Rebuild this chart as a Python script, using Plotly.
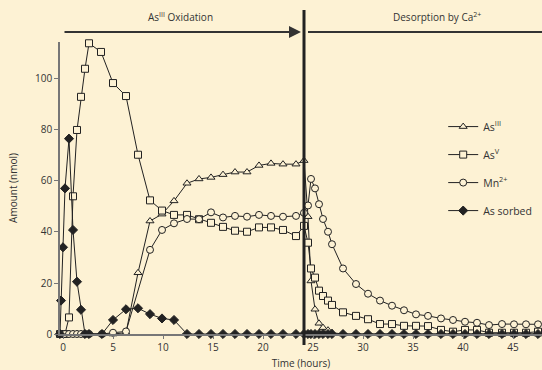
import plotly.graph_objects as go

# ---- data ----
t_as3 = [-0.3, 0.2, 0.6, 1.0, 1.4, 1.8, 2.2, 2.6, 3.9, 5.0, 6.3, 7.5, 8.7, 9.9, 11.1, 12.4, 13.6, 14.8,
         16.0, 17.2, 18.4, 19.6, 20.8, 22.0, 23.3, 24.1, 24.5, 24.8, 25.2, 25.6, 26.0, 26.5, 26.9,
         28.0, 29.3, 30.5, 31.7, 32.9, 34.1, 35.3, 36.5, 37.8, 39.0, 40.2, 41.4, 42.6, 43.9, 45.1, 46.3, 47.5]
as3 = [0, 0, 0, 0, 0, 0, 0, 0, 0, 0, 0.5, 24, 44.3, 47, 52.2, 59.1, 60.8, 61.4,
       62.5, 63.5, 63.5, 66.1, 66.9, 66.6, 66.6, 68, 46, 20.8, 9.7, 4.2, 2.5, 1.5, 0.5,
       0, 0, 0, 0, 0, 0, 0, 0, 0, 0, 0, 0, 0, 0, 0, 0, 0]

t_as5 = [-0.3, 0.2, 0.6, 1.0, 1.4, 1.8, 2.2, 2.6, 3.8, 5.0, 6.3, 7.5, 8.7, 9.9, 11.1, 12.4, 13.6, 14.8,
         16.0, 17.2, 18.4, 19.6, 20.8, 22.0, 23.3, 24.1, 24.5, 24.8, 25.2, 25.6, 26.0, 26.5, 26.9,
         28.0, 29.3, 30.5, 31.7, 32.9, 34.1, 35.3, 36.5, 37.8, 39.0, 40.2, 41.4, 42.6, 43.9, 45.1, 46.3, 47.5]
as5 = [0, 0, 6.5, 54, 80, 93, 104, 114, 110.6, 98.4, 93.3, 70.3, 52.4, 48.4, 46.7, 46.7, 45, 43.6,
       42, 40.5, 40.1, 41.8, 41.8, 40.8, 38.4, 42.4, 35.8, 25.7, 22.1, 17, 14.9, 13.1, 11.4,
       8.5, 7.1, 5.8, 3.9, 3.9, 3.2, 3.2, 3.1, 1.6, 0.9, 1.6, 1.6, 0.5, 0.5, 0.5, 0.5, 0.9]

t_mn = [-0.3, 0.2, 0.6, 1.0, 1.4, 1.8, 2.2, 2.6, 3.9, 5.0, 6.3, 8.7, 9.9, 11.1, 12.4, 13.6, 14.8,
        16.0, 17.2, 18.4, 19.6, 20.8, 22.0, 23.3, 24.1, 24.5, 24.8, 25.2, 25.6, 26.0, 26.5, 26.9,
        28.0, 29.3, 30.5, 31.7, 32.9, 34.1, 35.3, 36.5, 37.8, 39.0, 40.2, 41.4, 42.6, 43.9, 45.1, 46.3, 47.5]
mn = [0, 0, 0, 0, 0, 0, 0, 0, 0, 0.5, 1.0, 33, 40.8, 43.4, 45.1, 45, 47.7,
      45.7, 46.3, 46, 46.7, 46.3, 46, 46.3, 47.5, 50.4, 60.8, 57.1, 50.9, 45.1, 40.1, 35.2,
      25.7, 19.6, 15.8, 13.1, 11.1, 9.3, 7.7, 7.1, 6.1, 5.5, 4.8, 4.4, 3.5, 3.9, 3.8, 3.8, 3.8]

t_sorb = [-0.3, -0.2, 0.0, 0.2, 0.6, 1.0, 1.4, 1.8, 2.2, 2.6, 3.9, 5.0, 6.3, 7.5, 8.7, 9.9, 11.1, 12.4,
          13.6, 14.8, 16.0, 17.2, 18.4, 19.6, 20.8, 22.0, 23.3, 24.1, 24.5, 24.8, 25.2, 25.6, 26.0, 26.5, 26.9,
          28.0, 29.3, 30.5, 31.7, 32.9, 34.1, 35.3, 36.5, 37.8, 39.0, 40.2, 41.4, 42.6, 43.9, 45.1, 46.3, 47.5]
sorb = [0, 13.1, 34, 57.1, 76.6, 40.8, 20.5, 9.5, 0, 0, 0, 5.5, 9.7, 10.1, 7.8, 6.1, 5.5, 0,
        0, 0, 0, 0, 0, 0, 0, 0, 0, 0, 0, 0, 0, 0, 0, 0, 0,
        0, 0, 0, 0, 0, 0, 0, 0, 0, 0, 0, 0, 0, 0, 0, 0, 0]

x_ticks = [0, 5, 10, 15, 20, 25, 30, 35, 40, 45]
y_ticks = [0, 20, 40, 60, 80, 100]
t_switch = 24.1

BG = "#FDF2D4"
INK = "#222222"
FONT = "Open Sans"

fig = go.Figure()

def add(t, y, name, symbol, filled):
    fig.add_trace(go.Scatter(
        x=t, y=y, name=name, mode="lines+markers", cliponaxis=False,
        line=dict(color=INK, width=1),
        marker=dict(symbol=symbol, size=7,
                    color=INK if filled else BG,
                    line=dict(color=INK, width=1)),
        legendgroup=name,
    ))

add(t_as3, as3, "As<sup>III</sup>", "triangle-up", False)
add(t_as5, as5, "As<sup>V</sup>", "square", False)
add(t_mn, mn, "Mn<sup>2+</sup>", "circle", False)
add(t_sorb, sorb, "As sorbed", "diamond", True)

fig.update_layout(
    width=542, height=370,
    margin=dict(l=60, r=0, t=42, b=36, autoexpand=False),
    paper_bgcolor=BG, plot_bgcolor=BG,
    font=dict(family=FONT, size=10, color="#333333"),
    showlegend=True,
    legend=dict(x=0.795, y=0.76, xanchor="left", yanchor="top",
                bgcolor="rgba(0,0,0,0)", font=dict(size=10.5),
                tracegroupgap=9, itemwidth=30),
    xaxis=dict(range=[-0.3, 47.9], tickvals=x_ticks, showgrid=False, zeroline=False,
               showline=True, linecolor="#777777", linewidth=1.5,
               ticks="outside", ticklen=3, tickcolor="#777777",
               title=dict(text="Time (hours)", font=dict(size=10), standoff=12)),
    yaxis=dict(range=[0, 114.5], tickvals=y_ticks, showgrid=False, zeroline=False,
               showline=True, linecolor="#777777", linewidth=1.5,
               ticks="outside", ticklen=4, tickcolor="#777777",
               title=dict(text="Amount (nmol)", font=dict(size=10), standoff=16)),
    shapes=[
        dict(type="line", xref="x", yref="paper", x0=t_switch, x1=t_switch, y0=-0.038, y1=1.11,
             line=dict(color=INK, width=3), layer="above"),
        dict(type="line", xref="x", yref="paper", x0=t_switch + 0.4, x1=47.9, y0=1.034, y1=1.034,
             line=dict(color="#333333", width=2)),
    ],
    annotations=[
        dict(x=t_switch - 0.3, y=1.034, xref="x", yref="paper", ax=0, ay=0, axref="x", ayref="pixel",
             showarrow=True, arrowhead=2, arrowsize=1.2, arrowwidth=2, arrowcolor="#333333", text=""),
        dict(x=11.7, y=1.055, xref="x", yref="paper", yanchor="bottom", showarrow=False,
             text="As<sup>III</sup> Oxidation", font=dict(size=10)),
        dict(x=37.4, y=1.055, xref="x", yref="paper", yanchor="bottom", showarrow=False,
             text="Desorption by Ca<sup>2+</sup>", font=dict(size=10)),
    ],
)

fig.write_html("out.html")
